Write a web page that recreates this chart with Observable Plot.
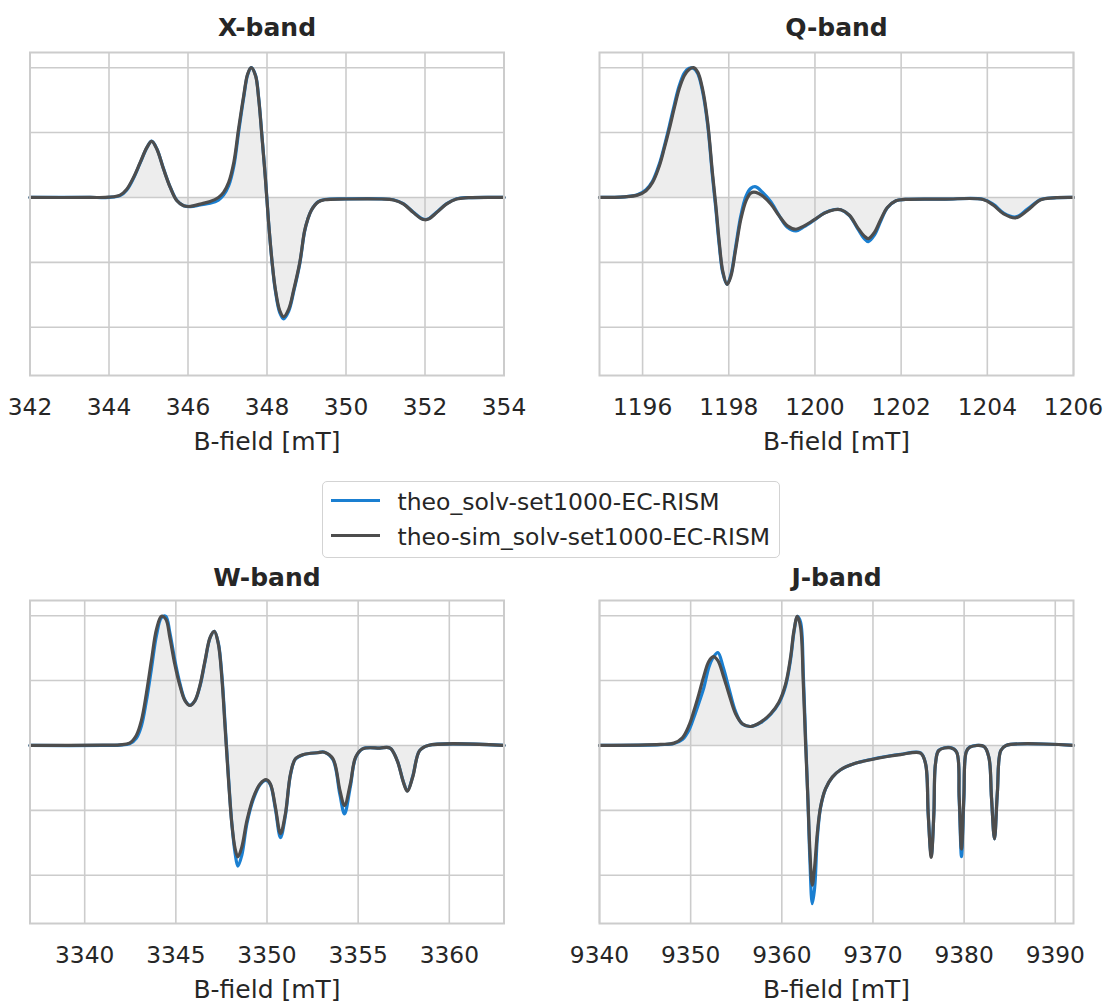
<!DOCTYPE html>
<html>
<head>
<meta charset="utf-8">
<script src="https://cdn.jsdelivr.net/npm/d3@7"></script>
<script src="https://cdn.jsdelivr.net/npm/@observablehq/plot@0.6"></script>
<style>
  html, body { margin: 0; padding: 0; background: #ffffff; }
  #root { position: relative; width: 1108px; height: 1005px; font-family: "DejaVu Sans", sans-serif; color: #262626; overflow: hidden; }
  .panel { position: absolute; }
  #legend { position: absolute; left: 322px; top: 481px; width: 458px; height: 77px; box-sizing: border-box;
            border: 1.5px solid #d3d3d3; border-radius: 5px; background: #ffffff; }
  .sw { position: absolute; left: 7.5px; width: 49px; height: 3.2px; }
  .lt { position: absolute; left: 74.5px; font-size: 23.5px; line-height: 28px; white-space: nowrap; color: #262626; }
</style>
</head>
<body>
<div id="root"></div>
<script>
// ---------- data ----------
const seriesNames = ["theo_solv-set1000-EC-RISM", "theo-sim_solv-set1000-EC-RISM"];
const seriesColors = ["#1a7fd1", "#4d4d4d"];
const bandTitles = ["X-band", "Q-band", "W-band", "J-band"];
const xLabel = "B-field [mT]";
const yTicks = [-1, -0.5, 0, 0.5, 1];

// X-band
const fieldX = [342, 343.5, 344.0, 344.28, 344.45, 344.62, 344.79, 344.96, 345.08, 345.21, 345.38, 345.55, 345.72, 345.89, 346.06, 346.31, 346.56, 346.77, 346.9, 347.03, 347.16, 347.28, 347.41, 347.51, 347.6, 347.71, 347.79, 347.87, 347.96, 348.04, 348.13, 348.21, 348.32, 348.42, 348.55, 348.68, 348.83, 348.95, 349.03, 349.12, 349.29, 349.46, 350.0, 350.9, 351.2, 351.45, 351.7, 351.9, 352.0, 352.1, 352.3, 352.55, 352.8, 353.1, 354];
const simX = [0, 0, 0.002, 0.018, 0.064, 0.154, 0.27, 0.386, 0.432, 0.373, 0.219, 0.077, -0.026, -0.064, -0.069, -0.051, -0.031, 0.0, 0.039, 0.116, 0.27, 0.527, 0.784, 0.951, 1.0, 0.938, 0.758, 0.476, 0.141, -0.193, -0.5, -0.704, -0.87, -0.92, -0.861, -0.707, -0.5, -0.26, -0.17, -0.1, -0.036, -0.018, -0.012, -0.012, -0.02, -0.05, -0.115, -0.163, -0.172, -0.165, -0.115, -0.05, -0.012, -0.002, 0];
const theoX = [0, 0, 0.001, 0.014, 0.058, 0.148, 0.266, 0.384, 0.434, 0.376, 0.222, 0.08, -0.024, -0.064, -0.071, -0.058, -0.045, -0.02, 0.018, 0.09, 0.24, 0.5, 0.77, 0.945, 1.0, 0.942, 0.765, 0.485, 0.15, -0.19, -0.505, -0.715, -0.885, -0.935, -0.875, -0.72, -0.51, -0.265, -0.17, -0.1, -0.034, -0.016, -0.011, -0.011, -0.018, -0.048, -0.112, -0.16, -0.17, -0.163, -0.112, -0.048, -0.01, -0.001, 0];
const ticksX = [342, 344, 346, 348, 350, 352, 354];

// Q-band
const fieldQ = [1195.0, 1195.58, 1195.88, 1196.08, 1196.23, 1196.39, 1196.5, 1196.62, 1196.74, 1196.85, 1196.97, 1197.08, 1197.18, 1197.28, 1197.39, 1197.51, 1197.62, 1197.7, 1197.78, 1197.86, 1197.96, 1198.05, 1198.16, 1198.28, 1198.4, 1198.51, 1198.63, 1198.78, 1198.98, 1199.17, 1199.36, 1199.56, 1199.75, 1199.98, 1200.22, 1200.45, 1200.6, 1200.8, 1200.99, 1201.14, 1201.24, 1201.38, 1201.53, 1201.68, 1201.88, 1202.1, 1203.0, 1203.9, 1204.15, 1204.38, 1204.66, 1204.93, 1205.24, 1205.54, 1206.0];
const simQ = [0, 0.005, 0.018, 0.052, 0.116, 0.245, 0.374, 0.528, 0.696, 0.838, 0.94, 0.987, 1.0, 0.966, 0.838, 0.58, 0.193, -0.064, -0.348, -0.567, -0.67, -0.606, -0.4, -0.168, -0.026, 0.034, 0.039, 0.013, -0.052, -0.142, -0.219, -0.245, -0.219, -0.173, -0.121, -0.095, -0.095, -0.137, -0.232, -0.296, -0.317, -0.27, -0.168, -0.077, -0.025, -0.015, -0.013, -0.016, -0.062, -0.126, -0.157, -0.1, -0.018, -0.003, 0];
const theoQ = [0, 0.005, 0.02, 0.06, 0.125, 0.26, 0.39, 0.55, 0.72, 0.86, 0.96, 0.995, 0.995, 0.955, 0.82, 0.56, 0.17, -0.09, -0.37, -0.58, -0.67, -0.595, -0.38, -0.14, 0.01, 0.07, 0.082, 0.04, -0.035, -0.14, -0.23, -0.258, -0.225, -0.175, -0.12, -0.093, -0.095, -0.14, -0.24, -0.315, -0.34, -0.29, -0.18, -0.08, -0.025, -0.015, -0.013, -0.014, -0.055, -0.12, -0.15, -0.09, -0.015, -0.003, 0];
const ticksQ = [1196, 1198, 1200, 1202, 1204, 1206];

// W-band
const fieldW = [3337.0, 3341.0, 3341.91, 3342.46, 3342.83, 3343.11, 3343.38, 3343.66, 3343.94, 3344.21, 3344.45, 3344.67, 3344.94, 3345.22, 3345.5, 3345.77, 3346.05, 3346.32, 3346.6, 3346.88, 3347.11, 3347.33, 3347.52, 3347.7, 3347.89, 3348.07, 3348.25, 3348.4, 3348.62, 3348.9, 3349.26, 3349.63, 3349.95, 3350.18, 3350.46, 3350.74, 3351.01, 3351.29, 3351.56, 3352.02, 3352.76, 3353.15, 3353.62, 3354.0, 3354.25, 3354.57, 3354.86, 3355.24, 3356.19, 3356.75, 3357.14, 3357.48, 3357.7, 3357.99, 3358.37, 3358.84, 3363.0];
const simW = [0, 0.002, 0.005, 0.018, 0.077, 0.192, 0.397, 0.654, 0.897, 0.995, 0.974, 0.833, 0.628, 0.462, 0.346, 0.308, 0.346, 0.462, 0.654, 0.833, 0.879, 0.782, 0.526, 0.141, -0.269, -0.603, -0.795, -0.859, -0.782, -0.577, -0.397, -0.295, -0.264, -0.295, -0.474, -0.679, -0.526, -0.218, -0.103, -0.069, -0.056, -0.052, -0.103, -0.347, -0.463, -0.296, -0.09, -0.026, -0.02, -0.02, -0.116, -0.283, -0.353, -0.245, -0.04, 0, 0];
const theoW = [0, 0, 0.003, 0.012, 0.055, 0.15, 0.34, 0.59, 0.85, 0.985, 0.995, 0.87, 0.66, 0.48, 0.35, 0.31, 0.345, 0.455, 0.645, 0.83, 0.88, 0.79, 0.55, 0.17, -0.25, -0.6, -0.83, -0.93, -0.845, -0.6, -0.41, -0.3, -0.27, -0.3, -0.49, -0.71, -0.54, -0.225, -0.105, -0.07, -0.056, -0.052, -0.11, -0.38, -0.528, -0.32, -0.095, -0.026, -0.02, -0.02, -0.115, -0.28, -0.35, -0.24, -0.04, 0, 0];
const ticksW = [3340, 3345, 3350, 3355, 3360];

// J-band
const fieldJ = [9340, 9346.7, 9348.17, 9349.09, 9349.82, 9350.37, 9350.91, 9351.46, 9352.0, 9352.49, 9352.99, 9353.58, 9354.2, 9354.93, 9355.67, 9356.58, 9357.68, 9358.77, 9359.68, 9360.42, 9360.96, 9361.33, 9361.7, 9362.06, 9362.36, 9362.61, 9362.87, 9363.08, 9363.34, 9363.6, 9363.89, 9364.25, 9364.8, 9365.54, 9366.45, 9367.9, 9369.74, 9371.57, 9373.03, 9375.22, 9375.77, 9376.06, 9376.39, 9376.68, 9376.86, 9377.23, 9378.51, 9379.17, 9379.46, 9379.71, 9379.97, 9380.23, 9380.63, 9382.16, 9382.71, 9383.0, 9383.33, 9383.65, 9384.02, 9384.6, 9392];
const simJ = [0, 0.008, 0.018, 0.059, 0.154, 0.269, 0.397, 0.538, 0.649, 0.685, 0.654, 0.538, 0.397, 0.244, 0.167, 0.146, 0.179, 0.244, 0.333, 0.474, 0.679, 0.885, 0.995, 0.91, 0.474, 0.013, -0.423, -0.808, -1.077, -0.936, -0.679, -0.474, -0.333, -0.244, -0.187, -0.141, -0.11, -0.085, -0.07, -0.059, -0.142, -0.528, -0.862, -0.528, -0.142, -0.039, -0.018, -0.05, -0.399, -0.798, -0.399, -0.05, -0.013, -0.008, -0.09, -0.399, -0.72, -0.36, -0.04, 0, 0];
const theoJ = [0, 0.006, 0.015, 0.045, 0.12, 0.22, 0.33, 0.449, 0.603, 0.68, 0.715, 0.6, 0.44, 0.26, 0.165, 0.146, 0.175, 0.24, 0.325, 0.46, 0.66, 0.87, 0.995, 0.95, 0.55, 0.06, -0.43, -0.88, -1.22, -1.1, -0.72, -0.48, -0.335, -0.245, -0.187, -0.141, -0.108, -0.083, -0.068, -0.057, -0.14, -0.53, -0.85, -0.53, -0.14, -0.037, -0.017, -0.05, -0.42, -0.857, -0.42, -0.05, -0.012, -0.007, -0.09, -0.4, -0.72, -0.36, -0.04, 0, 0];
const ticksJ = [9340, 9350, 9360, 9370, 9380, 9390];

// ---------- drawing ----------
const root = document.getElementById("root");
const yDomain = [-1.372, 1.117];
const gridStyle = {stroke: "#cccccc", strokeOpacity: 1, strokeWidth: 1.6};

function panel(cfg) {
  const rows = cfg.field.map((b, i) => ({b, sim: cfg.sim[i], theo: cfg.theo[i]}));
  const chart = Plot.plot({
    width: cfg.width, height: cfg.height,
    marginLeft: cfg.mL, marginRight: cfg.mR, marginTop: cfg.mT, marginBottom: cfg.mB,
    style: {fontFamily: '"DejaVu Sans", sans-serif', fontSize: "23px", color: "#262626", background: "transparent", overflow: "visible"},
    x: {domain: cfg.domain},
    y: {domain: yDomain, axis: null},
    marks: [
      Plot.gridX(cfg.ticks, gridStyle),
      Plot.gridY(yTicks, gridStyle),
      Plot.areaY(rows, {x: "b", y1: 0, y2: "sim", curve: "catmull-rom", fill: "#c4c4c4", fillOpacity: 0.3}),
      Plot.line(rows, {x: "b", y: "theo", stroke: seriesColors[0], strokeWidth: 3.2, curve: "catmull-rom"}),
      Plot.line(rows, {x: "b", y: "sim", stroke: seriesColors[1], strokeWidth: 3.2, curve: "catmull-rom"}),
      Plot.frame({stroke: "#cccccc", strokeWidth: 2}),
      Plot.axisX(cfg.ticks, {tickSize: 0, tickPadding: 23, tickFormat: d3.format("d"), fontSize: 23.3, label: null}),
      Plot.text([cfg.title], {frameAnchor: "top", lineAnchor: "bottom", dy: cfg.titleDy, fontSize: 25, fontWeight: "bold", fill: "#262626"}),
      Plot.text([xLabel], {frameAnchor: "bottom", lineAnchor: "bottom", dy: 74, fontSize: 25, fill: "#262626"})
    ]
  });
  chart.classList.add("panel");
  chart.style.left = cfg.left + "px";
  chart.style.top = cfg.top + "px";
  root.appendChild(chart);
}

panel({title: bandTitles[0], field: fieldX, sim: simX, theo: theoX, ticks: ticksX, domain: [342, 354],
       left: 0, top: 0, width: 554, height: 470, mL: 29.5, mR: 50.5, mT: 52, mB: 95, titleDy: -17});
panel({title: bandTitles[1], field: fieldQ, sim: simQ, theo: theoQ, ticks: ticksQ, domain: [1195, 1206],
       left: 554, top: 0, width: 554, height: 470, mL: 45, mR: 35, mT: 52, mB: 95, titleDy: -17});
panel({title: bandTitles[2], field: fieldW, sim: simW, theo: theoW, ticks: ticksW, domain: [3337, 3363],
       left: 0, top: 548, width: 554, height: 457, mL: 29.5, mR: 50.5, mT: 52, mB: 82, titleDy: -15});
panel({title: bandTitles[3], field: fieldJ, sim: simJ, theo: theoJ, ticks: ticksJ, domain: [9340, 9392],
       left: 554, top: 548, width: 554, height: 457, mL: 45, mR: 35, mT: 52, mB: 82, titleDy: -15});

// legend
const legend = document.createElement("div");
legend.id = "legend";
const rowCenters = [18.2, 53.2];
seriesNames.forEach((name, i) => {
  const sw = document.createElement("div");
  sw.className = "sw";
  sw.style.top = (rowCenters[i] - 1.6) + "px";
  sw.style.background = seriesColors[i];
  legend.appendChild(sw);
  const t = document.createElement("div");
  t.className = "lt";
  t.style.top = (rowCenters[i] - 12.5) + "px";
  t.textContent = name;
  legend.appendChild(t);
});
root.appendChild(legend);
</script>
</body>
</html>
